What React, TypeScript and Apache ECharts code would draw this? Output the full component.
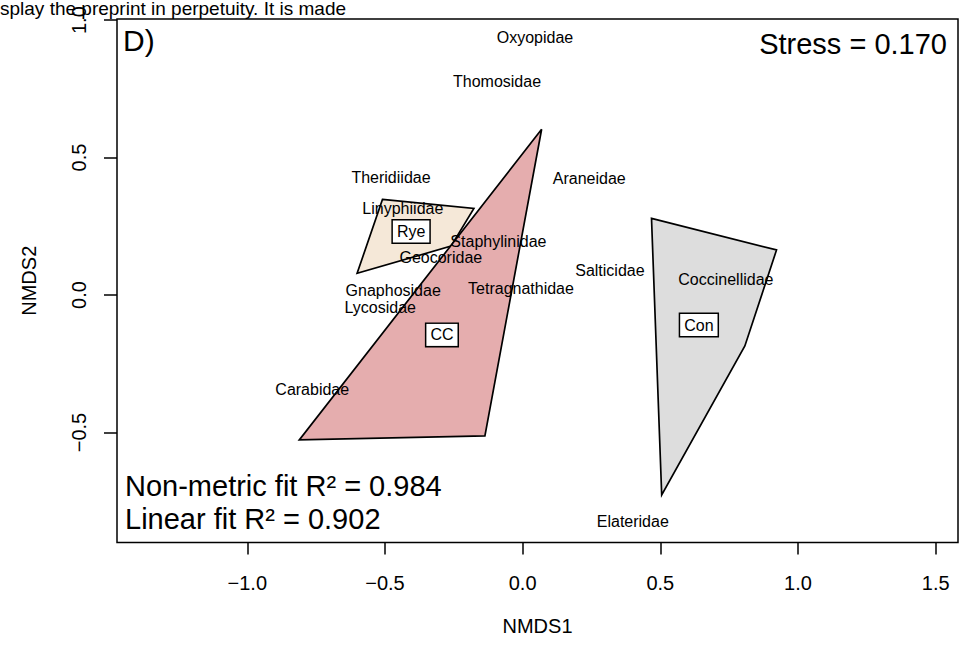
import React, { useEffect, useRef } from "react";
import * as echarts from "echarts";

const FONT = "'Liberation Sans', Arial, Helvetica, sans-serif";

// Species scores (NMDS1, NMDS2)
const speciesNames = [
  "Oxyopidae", "Thomosidae", "Theridiidae", "Araneidae", "Linyphiidae",
  "Staphylinidae", "Geocoridae", "Salticidae", "Coccinellidae", "Gnaphosidae",
  "Tetragnathidae", "Lycosidae", "Carabidae", "Elateridae",
];
const speciesNMDS1 = [0.045, -0.093, -0.478, 0.242, -0.435, -0.088, -0.297, 0.317, 0.738, -0.47, -0.006, -0.517, -0.764, 0.4];
const speciesNMDS2 = [0.938, 0.775, 0.429, 0.425, 0.316, 0.196, 0.138, 0.091, 0.058, 0.015, 0.022, -0.047, -0.345, -0.825];

// Treatment centroids
const groupNames = ["Rye", "CC", "Con"];
const groupNMDS1 = [-0.405, -0.293, 0.64];
const groupNMDS2 = [0.231, -0.145, -0.109];

// Convex hulls
const hullRye = [[-0.509, 0.348], [-0.177, 0.315], [-0.26, 0.178], [-0.601, 0.079]];
const hullCC = [[0.069, 0.603], [-0.137, -0.512], [-0.811, -0.527]];
const hullCon = [[0.468, 0.279], [0.922, 0.164], [0.807, -0.185], [0.505, -0.727]];
const hullColors = ["#F5E8D8", "#E5ADAE", "#DDDDDD"];

const xTicks = [-1, -0.5, 0, 0.5, 1, 1.5];
const yTicks = [-0.5, 0, 0.5, 1];

const stressText = "Stress = 0.170";
const fitTexts = ["Non-metric fit R\u00B2 = 0.984", "Linear fit R\u00B2 = 0.902"];
const panelLabel = "D)";
const watermark = "splay the preprint in perpetuity. It is made";

const fmt = (v: number) => (v < 0 ? "\u2212" : "") + Math.abs(v).toFixed(1);

function hullSeries(hull: number[][], color: string) {
  return {
    type: "custom",
    coordinateSystem: "cartesian2d",
    data: hull,
    encode: { x: 0, y: 1 },
    silent: true,
    z: 2,
    renderItem: (params: any, api: any) => {
      if (params.dataIndex !== 0) return { type: "group", children: [] };
      const pts = hull.map((p) => api.coord(p));
      return {
        type: "polygon",
        shape: { points: pts },
        style: { fill: color, stroke: "#000", lineWidth: 1.7, lineJoin: "miter" },
      };
    },
  };
}

export default function App() {
  const ref = useRef<HTMLDivElement>(null);
  useEffect(() => {
    document.body.style.margin = "0";
    if (!ref.current) return;
    const chart = echarts.init(ref.current, null, { renderer: "svg" });
    const speciesData = speciesNames.map((n, i) => [speciesNMDS1[i], speciesNMDS2[i]]);
    const groupData = groupNames.map((n, i) => [groupNMDS1[i], groupNMDS2[i]]);
    const option: any = {
      animation: false,
      grid: {
        left: 117, right: 1, top: 19, bottom: 102.5,
        show: true, borderColor: "#000", borderWidth: 1.5,
        backgroundColor: "transparent", containLabel: false, outerBoundsMode: "none",
      },
      xAxis: {
        type: "value", min: -1.473, max: 1.581,
        name: "NMDS1", nameLocation: "middle", nameGap: 73,
        nameTextStyle: { fontSize: 20, color: "#000", fontFamily: FONT },
        axisLine: { show: false, onZero: false },
        axisTick: { show: true, inside: false, length: 12, customValues: xTicks, lineStyle: { color: "#000", width: 1.5 } },
        axisLabel: { show: true, customValues: xTicks, margin: 30, fontSize: 20, color: "#000", fontFamily: FONT, formatter: fmt },
        splitLine: { show: false },
      },
      yAxis: {
        type: "value", min: -0.9, max: 1.004,
        name: "NMDS2", nameLocation: "middle", nameGap: 78, nameRotate: 90,
        nameTextStyle: { fontSize: 20, color: "#000", fontFamily: FONT },
        axisLine: { show: false, onZero: false },
        axisTick: { show: true, inside: false, length: 13, customValues: yTicks, lineStyle: { color: "#000", width: 1.5 } },
        axisLabel: { show: true, customValues: yTicks, margin: 28, rotate: 90, fontSize: 20, color: "#000", fontFamily: FONT, formatter: fmt },
        splitLine: { show: false },
      },
      series: [
        hullSeries(hullRye, hullColors[0]),
        hullSeries(hullCC, hullColors[1]),
        hullSeries(hullCon, hullColors[2]),
        {
          type: "custom",
          coordinateSystem: "cartesian2d",
          data: speciesData,
          encode: { x: 0, y: 1 },
          silent: true,
          z: 3,
          renderItem: (params: any, api: any) => {
            const c = api.coord([api.value(0), api.value(1)]);
            return {
              type: "text",
              x: c[0], y: c[1],
              style: {
                text: speciesNames[params.dataIndex],
                align: "center", verticalAlign: "middle",
                textAlign: "center", textVerticalAlign: "middle",
                fontSize: 16, fontFamily: FONT, fill: "#000",
              },
            };
          },
        },
        {
          type: "custom",
          coordinateSystem: "cartesian2d",
          data: groupData,
          encode: { x: 0, y: 1 },
          silent: true,
          z: 4,
          renderItem: (params: any, api: any) => {
            const c = api.coord([api.value(0), api.value(1)]);
            return {
              type: "text",
              x: c[0], y: c[1],
              style: {
                text: groupNames[params.dataIndex],
                align: "center", verticalAlign: "middle",
                textAlign: "center", textVerticalAlign: "middle",
                fontSize: 16, fontFamily: FONT, fill: "#000",
                backgroundColor: "#fff", borderColor: "#000", borderWidth: 1.5,
                padding: [3, 4, 2, 4], lineHeight: 17,
              },
            };
          },
        },
      ],
      graphic: [
        {
          type: "text", x: 0, y: 8, z: 10,
          style: { text: watermark, align: "left", verticalAlign: "middle", textAlign: "left", textVerticalAlign: "middle", fontSize: 19, fontFamily: FONT, fill: "#000" },
        },
        {
          type: "text", x: 123, y: 40, z: 10,
          style: { text: panelLabel, align: "left", verticalAlign: "middle", textAlign: "left", textVerticalAlign: "middle", fontSize: 30, fontFamily: FONT, fill: "#000" },
        },
        {
          type: "text", x: 947, y: 44, z: 10,
          style: { text: stressText, align: "right", verticalAlign: "middle", textAlign: "right", textVerticalAlign: "middle", fontSize: 29, fontFamily: FONT, fill: "#000" },
        },
        {
          type: "text", x: 125, y: 486, z: 10,
          style: { text: fitTexts[0], align: "left", verticalAlign: "middle", textAlign: "left", textVerticalAlign: "middle", fontSize: 29, fontFamily: FONT, fill: "#000" },
        },
        {
          type: "text", x: 125, y: 518.5, z: 10,
          style: { text: fitTexts[1], align: "left", verticalAlign: "middle", textAlign: "left", textVerticalAlign: "middle", fontSize: 29, fontFamily: FONT, fill: "#000" },
        },
      ],
    };
    chart.setOption(option);
    return () => chart.dispose();
  }, []);
  return <div ref={ref} style={{ width: 959, height: 645 }} />;
}
